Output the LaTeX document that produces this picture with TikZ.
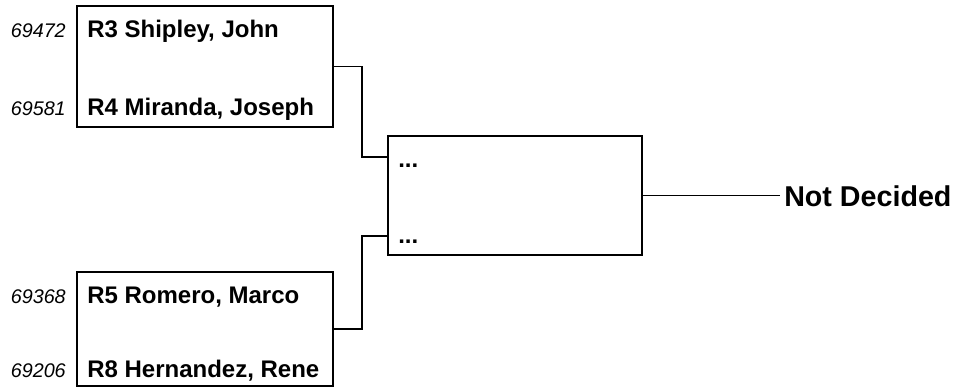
\documentclass[tikz,border=0pt]{standalone}
\usepackage{fontspec}
\setmainfont{Liberation Sans}
\usetikzlibrary{positioning,calc}

\begin{document}
\begin{tikzpicture}[
    x=0.75pt, y=-0.75pt,
    pairbox/.style={draw=black, line width=1.4pt, minimum width=192pt, minimum height=#1, inner sep=0pt},
    pairbox/.default={90.75pt},
    roundbox/.style={draw=black, line width=1.4pt, minimum width=190.5pt, minimum height=89.25pt, inner sep=0pt},
    player/.style={font=\fontsize{18}{21}\selectfont\bfseries, inner sep=0pt, anchor=base west},
    seed/.style={font=\fontsize{14.8}{17}\selectfont\itshape, inner sep=0pt, anchor=base east},
    result/.style={font=\fontsize{21.5}{24}\selectfont\bfseries, inner ysep=0pt, inner xsep=3pt, anchor=base west},
    link/.style={line width=1.4pt},
]
\useasboundingbox (0,0) rectangle (960,389);

% ===== FIRST ROUND =====
\node[pairbox] (matchA) at (205, 66.5) {};
\node[pairbox=85.5pt] (matchB) at (205, 329) {};

\node[seed] (seedA1) at (66, 37) {69472};
\node[player] (playerA1) at (87, 37) {R3 Shipley, John};
\node[seed] (seedA2) at (66, 115) {69581};
\node[player] (playerA2) at (87, 115) {R4 Miranda, Joseph};

\node[seed] (seedB1) at (66, 303) {69368};
\node[player] (playerB1) at (87, 303) {R5 Romero, Marco};
\node[seed] (seedB2) at (66, 377) {69206};
\node[player] (playerB2) at (87, 377) {R8 Hernandez, Rene};

% ===== SECOND ROUND =====
\node[roundbox] (final) at (515, 195.5) {};
\node[player] (slot1) at (398, 167) {...};
\node[player] (slot2) at (398, 243) {...};
\coordinate (in1) at (388, 157);
\coordinate (in2) at (388, 236);

\node[result] (winner) at (780, 206) {Not Decided};

% ===== LINKS =====
\draw[link] (matchA.east) -- ++(28,0) |- (in1);
\draw[link] (matchB.east) -- ++(28,0) |- (in2);
\draw[link] (final.east) -- (final.east -| winner.west);

\end{tikzpicture}
\end{document}
